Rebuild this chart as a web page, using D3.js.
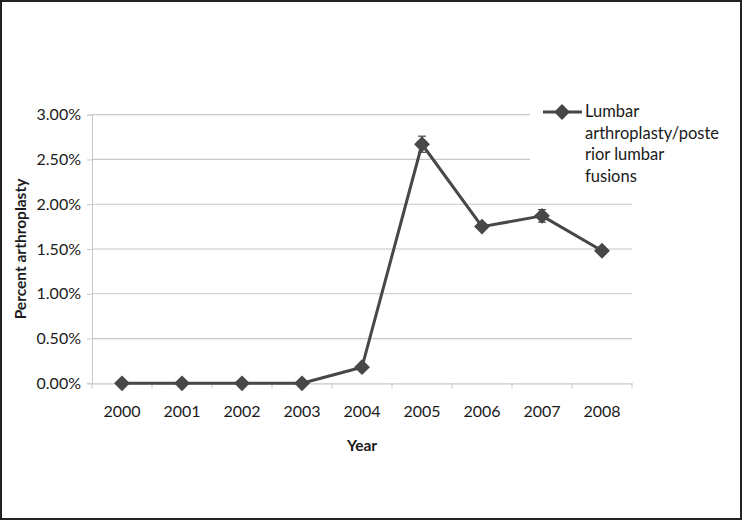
<!DOCTYPE html>
<html>
<head>
<meta charset="utf-8">
<script src="https://cdn.jsdelivr.net/npm/d3@7"></script>
<style>
  body { margin: 0; background: #fff; }
  text { font-family: Lato, "Open Sans", sans-serif; fill: #1a1a1a; }
</style>
</head>
<body>
<div id="chart"></div>
<script>
"use strict"

// data
const years = ["2000", "2001", "2002", "2003", "2004", "2005", "2006", "2007", "2008"];
const percentArthroplasty = [0, 0, 0, 0, 0.0018, 0.0267, 0.0175, 0.0187, 0.0148];
const errorValues = [0, 0, 0, 0, 0.0002, 0.0009, 0.0003, 0.0007, 0.0004];
const yTicks = [0, 0.005, 0.01, 0.015, 0.02, 0.025, 0.03];
const legendLines = ["Lumbar", "arthroplasty/poste", "rior lumbar", "fusions"];

let width = 742, height = 520;
let plot = { left: 92, right: 632, top: 114.7, bottom: 383.3 };
let seriesColor = "#474747";
let gridColor = "#c8c8c8";

let svg = d3.select("#chart").append("svg")
    .attr("width", width)
    .attr("height", height);

svg.append("rect")
    .attr("x", 1).attr("y", 1)
    .attr("width", width - 2).attr("height", height - 2)
    .attr("fill", "#fff")
    .attr("stroke", "#222")
    .attr("stroke-width", 2);

let x = d3.scaleBand()
    .domain(years)
    .range([plot.left, plot.right]);

let y = d3.scaleLinear()
    .domain([0, 0.03])
    .range([plot.bottom, plot.top]);

/* gridlines + y axis */
let yAxis = d3.axisLeft(y)
    .tickValues(yTicks)
    .tickFormat(d3.format(".2%"))
    .tickSize(5)
    .tickPadding(6);

let yg = svg.append("g")
    .attr("transform", "translate(" + plot.left + ",0)")
    .call(yAxis);
yg.select(".domain").attr("stroke", gridColor);
yg.selectAll(".tick line").attr("stroke", gridColor);
yg.selectAll(".tick text").style("font-size", "16px").attr("fill", "#1a1a1a");

svg.append("g")
    .selectAll("line")
    .data(yTicks.filter(d => d > 0))
    .enter().append("line")
    .attr("x1", plot.left)
    .attr("x2", plot.right)
    .attr("y1", d => y(d))
    .attr("y2", d => y(d))
    .attr("stroke", gridColor)
    .attr("stroke-width", 1.2);

/* x axis, ticks between categories */
let xAxis = d3.axisBottom(x).tickSize(0).tickPadding(22);
let xg = svg.append("g")
    .attr("transform", "translate(0," + plot.bottom + ")")
    .call(xAxis);
xg.select(".domain").attr("stroke", gridColor).attr("stroke-width", 1.2);
xg.selectAll(".tick text").style("font-size", "16px").attr("fill", "#1a1a1a");

let boundaries = years.map(d => x(d)).concat([x.range()[1]]);
xg.selectAll(".bnd")
    .data(boundaries)
    .enter().append("line")
    .attr("class", "bnd")
    .attr("x1", d => d).attr("x2", d => d)
    .attr("y1", 0).attr("y2", 5)
    .attr("stroke", gridColor);

/* axis titles */
svg.append("text")
    .attr("transform", "translate(22," + ((plot.top + plot.bottom) / 2) + ") rotate(-90)")
    .attr("text-anchor", "middle")
    .attr("dominant-baseline", "middle")
    .style("font-size", "15.5px")
    .style("font-weight", "bold")
    .text("Percent arthroplasty");

svg.append("text")
    .attr("x", (plot.left + plot.right) / 2)
    .attr("y", 451)
    .attr("text-anchor", "middle")
    .style("font-size", "15.5px")
    .style("font-weight", "bold")
    .text("Year");

/* series */
let points = years.map((d, i) => ({ year: d, value: percentArthroplasty[i], err: errorValues[i] }));
let cx = d => x(d.year) + x.bandwidth() / 2;

let errG = svg.append("g").attr("stroke", seriesColor).attr("stroke-width", 1.2);
points.filter(d => d.err > 0).forEach(d => {
    errG.append("line")
        .attr("x1", cx(d)).attr("x2", cx(d))
        .attr("y1", y(d.value - d.err)).attr("y2", y(d.value + d.err));
    [d.value - d.err, d.value + d.err].forEach(v => {
        errG.append("line")
            .attr("x1", cx(d) - 4).attr("x2", cx(d) + 4)
            .attr("y1", y(v)).attr("y2", y(v));
    });
});

let line = d3.line()
    .x(d => cx(d))
    .y(d => y(d.value));

svg.append("path")
    .datum(points)
    .attr("d", line)
    .attr("fill", "none")
    .attr("stroke", seriesColor)
    .attr("stroke-width", 3)
    .attr("stroke-linejoin", "round");

let diamond = d3.symbol().type(d3.symbolDiamond2).size(160);

svg.append("g")
    .selectAll("path")
    .data(points)
    .enter().append("path")
    .attr("d", diamond)
    .attr("transform", d => "translate(" + cx(d) + "," + y(d.value) + ")")
    .attr("fill", seriesColor);

/* legend */
let legend = svg.append("g");
legend.append("rect")
    .attr("x", 530).attr("y", 98)
    .attr("width", 205).attr("height", 96)
    .attr("fill", "#fff");

legend.append("line")
    .attr("x1", 543).attr("x2", 582)
    .attr("y1", 112).attr("y2", 112)
    .attr("stroke", seriesColor)
    .attr("stroke-width", 3);

legend.append("path")
    .attr("d", diamond)
    .attr("transform", "translate(562,112)")
    .attr("fill", seriesColor);

legend.selectAll("text")
    .data(legendLines)
    .enter().append("text")
    .attr("x", 585)
    .attr("y", (d, i) => 113 + i * 21.5)
    .attr("dominant-baseline", "middle")
    .style("font-size", "16.5px")
    .text(d => d);
</script>
</body>
</html>
